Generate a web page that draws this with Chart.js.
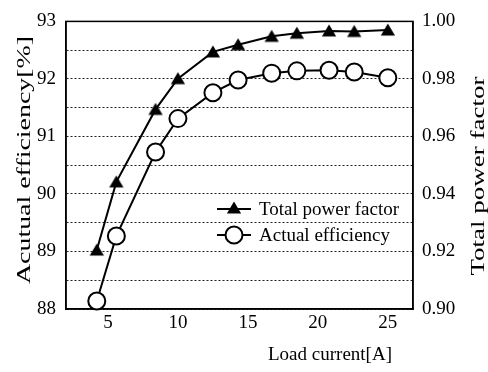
<!DOCTYPE html>
<html>
<head>
<meta charset="utf-8">
<script src="https://cdn.jsdelivr.net/npm/chart.js@4/dist/chart.umd.min.js"></script>
<style>
html,body{margin:0;padding:0;background:#fff;}
#wrap{width:488px;height:372px;position:relative;}
</style>
</head>
<body>
<div id="wrap"><canvas id="c" width="488" height="372"></canvas></div>
<script>
// ---- data ----
const loadCurrent = [4.2, 5.6, 8.4, 10.0, 12.5, 14.3, 16.7, 18.5, 20.8, 22.6, 25.0];
const powerFactor = [0.9205, 0.9442, 0.9694, 0.9801, 0.9894, 0.9919, 0.9948, 0.9959, 0.9967, 0.9965, 0.9970];
const efficiency  = [88.14, 89.27, 90.73, 91.31, 91.76, 91.98, 92.10, 92.14, 92.15, 92.12, 92.02];
const xTicks = [5, 10, 15, 20, 25];
const leftTicks = [88, 89, 90, 91, 92, 93];
const rightTicks = [0.90, 0.92, 0.94, 0.96, 0.98, 1.00];
const seriesNames = ['Total power factor', 'Actual efficiency'];
const xTitle = 'Load current[A]';
const yLeftTitle = 'Acutual efficiency[%]';
const yRightTitle = 'Total power factor';

const FONT = "'Liberation Serif', 'Times New Roman', serif";

const pfData = loadCurrent.map((x, i) => ({x, y: powerFactor[i]}));
const effData = loadCurrent.map((x, i) => ({x, y: efficiency[i]}));

function drawTriangle(ctx, x, y, r) {
  ctx.beginPath();
  ctx.moveTo(x, y - r);
  ctx.lineTo(x + r * 0.95, y + r * 0.6);
  ctx.lineTo(x - r * 0.95, y + r * 0.6);
  ctx.closePath();
  ctx.fillStyle = '#000';
  ctx.fill();
}

const decor = {
  id: 'decor',
  afterDraw(chart) {
    const ctx = chart.ctx;
    ctx.save();
    ctx.fillStyle = '#000';
    ctx.textBaseline = 'middle';
    ctx.textAlign = 'center';
    // vertical titles (stretched along their length)
    ctx.font = '18px ' + FONT;
    ctx.save();
    ctx.translate(25, 160);
    ctx.rotate(-Math.PI / 2);
    ctx.scale(1.55, 1);
    ctx.fillText(yLeftTitle, 0, 0);
    ctx.restore();
    ctx.save();
    ctx.translate(479, 176);
    ctx.rotate(-Math.PI / 2);
    ctx.scale(1.5, 1);
    ctx.fillText(yRightTitle, 0, 0);
    ctx.restore();
    // x title
    ctx.font = '19px ' + FONT;
    ctx.fillText(xTitle, 330, 355);
    // legend
    const lx1 = 217, lx2 = 251, tx = 259;
    const rows = [209, 235];
    ctx.strokeStyle = '#000';
    ctx.lineWidth = 2;
    rows.forEach((ry, i) => {
      ctx.beginPath();
      ctx.moveTo(lx1, ry);
      ctx.lineTo(lx2, ry);
      ctx.stroke();
      const cx = (lx1 + lx2) / 2;
      if (i === 0) {
        drawTriangle(ctx, cx, ry, 7.5);
      } else {
        ctx.beginPath();
        ctx.arc(cx, ry, 8.5, 0, Math.PI * 2);
        ctx.fillStyle = '#fff';
        ctx.fill();
        ctx.lineWidth = 2;
        ctx.stroke();
      }
      ctx.fillStyle = '#000';
      ctx.textAlign = 'left';
      ctx.font = '19px ' + FONT;
      ctx.fillText(seriesNames[i], tx, ry + 1);
    });
    ctx.restore();
  }
};

const triPoint = (() => {
  const c = document.createElement('canvas');
  c.width = 18; c.height = 18;
  const g = c.getContext('2d');
  drawTriangle(g, 9, 10, 7.5);
  return c;
})();

new Chart(document.getElementById('c'), {
  type: 'scatter',
  data: {
    datasets: [
      {
        label: seriesNames[0],
        data: pfData,
        yAxisID: 'y1',
        showLine: true,
        borderColor: '#000',
        borderWidth: 2,
        pointStyle: triPoint,
        pointRadius: 7,
        clip: false
      },
      {
        label: seriesNames[1],
        data: effData,
        yAxisID: 'y',
        showLine: true,
        borderColor: '#000',
        borderWidth: 2,
        backgroundColor: '#fff',
        pointStyle: 'circle',
        pointRadius: 8.5,
        pointBorderWidth: 2,
        pointBackgroundColor: '#fff',
        pointBorderColor: '#000',
        clip: false
      }
    ]
  },
  options: {
    responsive: false,
    animation: false,
    layout: { padding: { top: 18, right: 0, left: 0, bottom: 0 } },
    plugins: { legend: { display: false }, tooltip: { enabled: false } },
    scales: {
      x: {
        type: 'linear',
        min: 2, max: 26.8,
        afterBuildTicks(s) { s.ticks = xTicks.map(v => ({value: v})); },
        afterFit(s) { s.height = 372 - 18 - 291; },
        grid: { display: false, drawTicks: false },
        border: { display: true, color: '#000', width: 1.5 },
        ticks: { color: '#000', font: { family: FONT, size: 19 }, padding: 3, maxRotation: 0 }
      },
      y: {
        position: 'left',
        min: 88, max: 93,
        afterBuildTicks(s) {
          const t = [];
          for (let v = 88; v <= 93.0001; v += 0.5) t.push({value: Math.round(v * 10) / 10});
          s.ticks = t;
        },
        afterFit(s) { s.width = 66; },
        grid: { color: '#222', lineWidth: 1, drawTicks: false },
        border: { display: true, color: '#000', width: 1.5, dash: [2, 2] },
        ticks: {
          color: '#000', font: { family: FONT, size: 19 }, padding: 10,
          callback(v) { return leftTicks.includes(v) ? String(v) : ''; }
        }
      },
      y1: {
        position: 'right',
        min: 0.9, max: 1.0,
        afterBuildTicks(s) { s.ticks = rightTicks.map(v => ({value: v})); },
        afterFit(s) { s.width = 75; },
        grid: { display: false, drawTicks: false },
        border: { display: true, color: '#000', width: 1.5 },
        ticks: {
          color: '#000', font: { family: FONT, size: 19 }, padding: 9,
          callback(v) { return v.toFixed(2); }
        }
      }
    }
  },
  plugins: [decor, {
    id: 'frame',
    beforeDatasetsDraw(chart) {
      const a = chart.chartArea, ctx = chart.ctx;
      ctx.save();
      ctx.strokeStyle = '#000';
      ctx.lineWidth = 1.5;
      ctx.setLineDash([]);
      ctx.strokeRect(a.left, a.top, a.right - a.left, a.bottom - a.top);
      ctx.restore();
    }
  }]
});
</script>
</body>
</html>
